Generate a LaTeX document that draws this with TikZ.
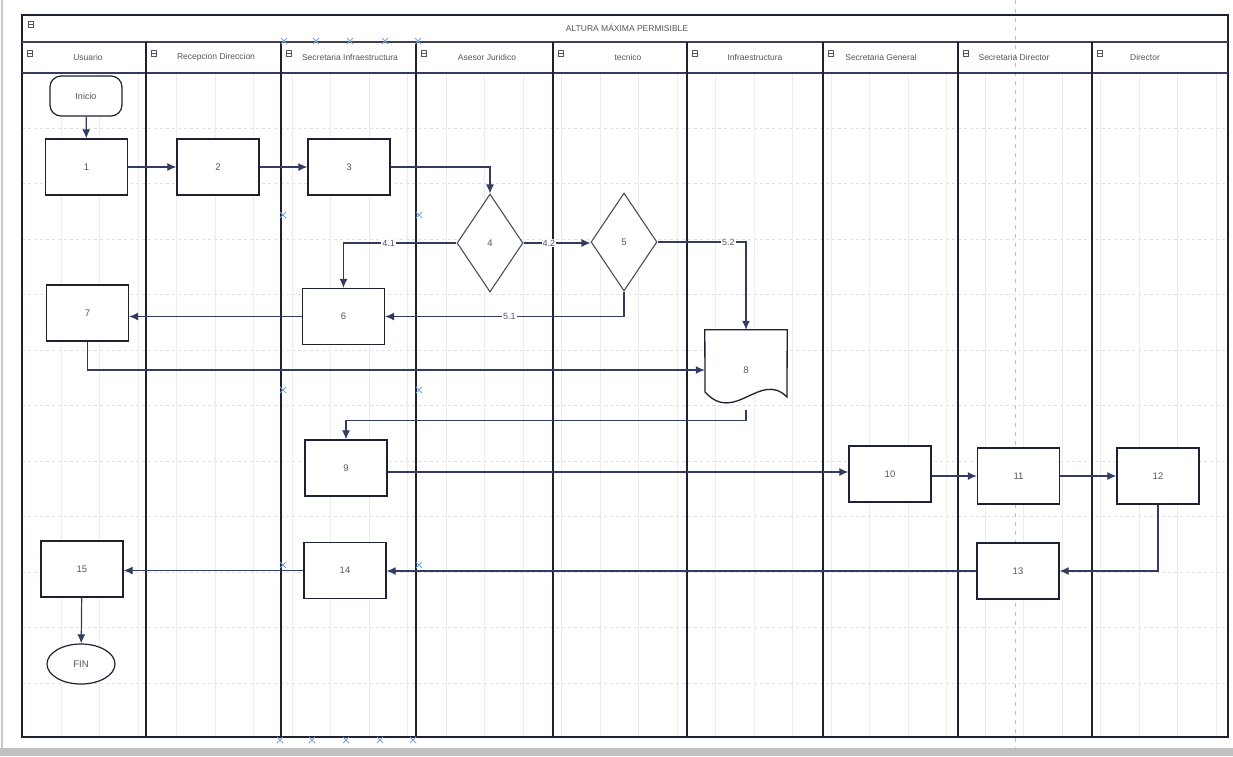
\documentclass[tikz,border=0pt]{standalone}
\usepackage{fontspec}
\setmainfont{Liberation Sans}
\usetikzlibrary{arrows.meta,shapes.geometric,calc}
\definecolor{ink}{RGB}{30,32,52}
\definecolor{wire}{RGB}{50,60,95}
\definecolor{txt}{RGB}{85,85,95}
\definecolor{handle}{RGB}{120,165,220}
\definecolor{gridc}{RGB}{224,224,228}
\definecolor{gridv}{RGB}{236,236,239}
\definecolor{scan}{RGB}{150,150,155}
\begin{document}
\begin{tikzpicture}[x=1pt,y=-1pt,
  box/.style={draw=ink,fill=white,line width=1.3pt,minimum width=82pt,minimum height=56pt,inner sep=0pt,font=\fontsize{9.5}{10}\selectfont,text=txt},
  dia/.style={shape=diamond,draw=ink!80,fill=white,line width=1.1pt,minimum width=66pt,minimum height=98pt,inner sep=0pt,font=\fontsize{9.5}{10}\selectfont,text=txt},
  term/.style={draw=ink,fill=white,line width=1.2pt,rounded corners=11pt,minimum width=72pt,minimum height=40pt,inner sep=0pt,font=\fontsize{9}{10}\selectfont,text=txt},
  endst/.style={shape=ellipse,draw=ink,fill=white,line width=1.2pt,minimum width=68pt,minimum height=40pt,inner sep=0pt,font=\fontsize{9.5}{10}\selectfont,text=txt},
  docbox/.style={minimum width=82pt,minimum height=80pt,inner sep=0pt,font=\fontsize{9.5}{10}\selectfont,text=txt},
  arr/.style={draw=wire,line width=1.2pt,-{Latex[length=9pt,width=8pt]}},
  lbl/.style={fill=white,inner sep=1.2pt,font=\fontsize{9}{10}\selectfont,text=txt},
  lane/.style={draw=ink,line width=1.4pt},
  hdr/.style={font=\fontsize{8.5}{9}\selectfont,text=txt,inner sep=0pt},
  gridl/.style={draw=gridc,line width=0.6pt,dashed},
  icon/.style={draw=txt,line width=0.6pt},
  hx/.style={draw=handle,line width=0.9pt}
]
\useasboundingbox (0,0) rectangle (1233,756);
\fill[white] (0,0) rectangle (1233,756);
\fill[scan!60] (0,748) rectangle (1233,756);
\draw[scan!50,line width=1.5pt] (2,0) -- (2,748);

% faint grid
\foreach \y in {128,183.5,239,294.5,350,405.5,461,516.5,572,627.5,683}
  \draw[gridl] (22,\y) -- (1228,\y);
\foreach \x in {61,99.5,138,176.5,215,253.5,292,330.5,369,407.5,446,484.5,523,561.5,600,638.5,677,715.5,754,792.5,831,869.5,908,946.5,985,1023.5,1062,1100.5,1139,1177.5,1216}
  \draw[draw=gridv,line width=0.4pt] (\x,73) -- (\x,737);
\draw[draw=scan!60,line width=0.7pt,dash pattern=on 4pt off 5pt] (1015,0) -- (1015,748);

% frame, title and header rows
\draw[ink,line width=1.6pt] (22,15) rectangle (1228,737);
\draw[ink!85,line width=1.2pt] (22,42) -- (1228,42);
\draw[wire,line width=1.8pt] (22,73) -- (1228,73);
\foreach \x in {146,281,416,553,687,823,958,1092}
  \draw[lane] (\x,42) -- (\x,737);

\node[hdr] (title) at (627,28) {ALTURA MÁXIMA PERMISIBLE};
\draw[icon] (28,21) rectangle (33,27); \draw[icon] (28,24) -- (33,24);

\foreach \lx/\cx/\t [count=\k] in {22/88/Usuario,146/216/Recepcion Direccion,281/350/Secretaria Infraestructura,416/487/Asesor Juridico,553/628/tecnico,687/755/Infraestructura,823/881/Secretaria General,958/1014/Secretaria Director,1092/1145/Director}{
  \node[hdr] (h\k) at (\cx,57) {\t};
  \draw[icon] (\lx+5,50) rectangle (\lx+10,56); \draw[icon] (\lx+5,53) -- (\lx+10,53);
}

% nodes
\node[term]  (ini) at (86,96) {Inicio};
\node[box]   (n1)  at (86.5,167) {1};
\node[box]   (n2)  at (218,167) {2};
\node[box]   (n3)  at (349,167) {3};
\node[dia]   (n4)  at (490,243) {4};
\node[dia]   (n5)  at (624,242) {5};
\node[box]   (n6)  at (343.5,316.5) {6};
\node[box]   (n7)  at (87.5,313) {7};
\fill[white] (705,330) -- (787,330) -- (787,397)
   .. controls (760,370) and (735,425) .. (705,392) -- cycle;
\node[docbox](n8)  at (746,370) {8};
\draw[ink,line width=1.3pt] (n8.north west) -- (n8.north east) -- (787,397)
   .. controls (760,370) and (735,425) .. (705,392) -- cycle;
\node[box]   (n9)  at (346,468) {9};
\node[box]   (n10) at (890,474) {10};
\node[box]   (n11) at (1018.5,476) {11};
\node[box]   (n12) at (1158,476) {12};
\node[box]   (n13) at (1018,571) {13};
\node[box]   (n14) at (345,570.5) {14};
\node[box]   (n15) at (82,569) {15};
\node[endst] (fin) at (81,664) {FIN};

% connectors
\draw[arr] (ini) -- (n1);
\draw[arr] (n1) -- (n2);
\draw[arr] (n2) -- (n3);
\draw[arr] (n3.east) -| (n4.north);
\draw[arr] (n4.west) -| node[lbl,pos=0.3] {4.1} (n6.north);
\draw[arr] (n4.east) -- node[lbl,pos=0.38] {4.2} (n4.east -| n5.west);
\draw[arr] (n5.south) |- node[lbl,pos=0.74] {5.1} (n6.east);
\draw[arr] (n5.east) -| node[lbl,pos=0.4] {5.2} (n8.north);
\draw[arr] (n6.west) -- (n6.west -| n7.east);
\draw[arr] (n7.south) |- (n8.west);
\draw[arr] (n8.south) -- ++(0,10) -| (n9.north);
\draw[arr] (n9.east) ++(0,4) -- ($(n9.east -| n10.west)+(0,4)$);
\draw[arr] (n10.east) ++(0,2) -- ($(n10.east -| n11.west)+(0,2)$);
\draw[arr] (n11) -- (n12);
\draw[arr] (n12.south) |- (n13.east);
\draw[arr] (n13.west) -- (n13.west -| n14.east);
\draw[arr] (n14.west) -- (n14.west -| n15.east);
\draw[arr] (n15) -- (fin);

% selection handles on the Secretaria Infraestructura lane
\foreach \px/\py in {284/41,316/41,350/41,385/41,418/41,283/215,419/215,283/390,419/390,283/565,419/565,280/740,312/740,346/740,380/740,413/740}{
  \draw[hx] (\px-3,\py-3) -- (\px+3,\py+3) (\px-3,\py+3) -- (\px+3,\py-3);
}
\end{tikzpicture}
\end{document}
